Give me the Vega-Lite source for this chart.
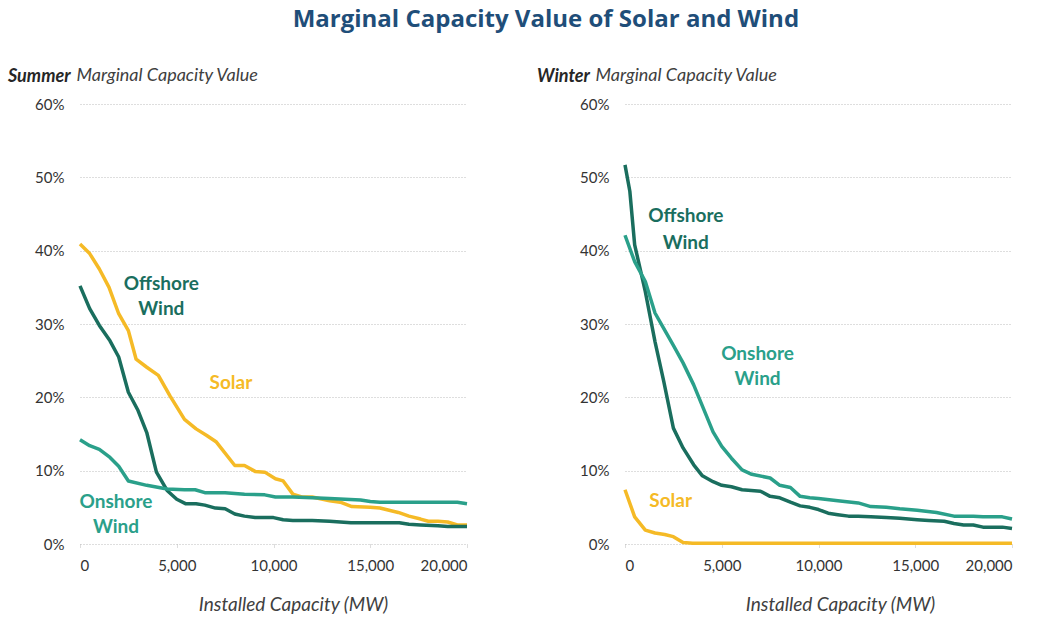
{
  "$schema": "https://vega.github.io/schema/vega-lite/v6.json",
  "background": "white",
  "padding": {"left": 8, "top": 8, "right": 5, "bottom": 5},
  "title": {"text": "Marginal Capacity Value of Solar and Wind", "font": "Open Sans", "fontSize": 24, "fontWeight": "bold", "color": "#1F4E79", "anchor": "middle", "offset": 34, "dx": 35},
  "config": {
    "view": {"stroke": null},
    "font": "Lato",
    "concat": {"spacing": 68},
    "axis": {"labelFont": "Lato", "titleFont": "Lato", "labelFontSize": 15, "labelColor": "#333333", "titleColor": "#404040", "titleFontSize": 18, "titleFontStyle": "italic", "titleFontWeight": "normal"},
    "title": {"font": "Lato"}
  },
  "datasets": {
    "lines": [
      {"s":"Summer","t":"Solar","mw":0,"v":0.409},{"s":"Summer","t":"Solar","mw":500,"v":0.396},{"s":"Summer","t":"Solar","mw":1000,"v":0.375},{"s":"Summer","t":"Solar","mw":1500,"v":0.350},{"s":"Summer","t":"Solar","mw":2000,"v":0.314},{"s":"Summer","t":"Solar","mw":2500,"v":0.291},{"s":"Summer","t":"Solar","mw":2900,"v":0.252},{"s":"Summer","t":"Solar","mw":3450,"v":0.241},{"s":"Summer","t":"Solar","mw":4050,"v":0.230},{"s":"Summer","t":"Solar","mw":4650,"v":0.202},{"s":"Summer","t":"Solar","mw":5400,"v":0.170},{"s":"Summer","t":"Solar","mw":6000,"v":0.157},{"s":"Summer","t":"Solar","mw":6550,"v":0.148},{"s":"Summer","t":"Solar","mw":7050,"v":0.139},{"s":"Summer","t":"Solar","mw":8000,"v":0.107},{"s":"Summer","t":"Solar","mw":8500,"v":0.107},{"s":"Summer","t":"Solar","mw":9050,"v":0.099},{"s":"Summer","t":"Solar","mw":9550,"v":0.098},{"s":"Summer","t":"Solar","mw":10100,"v":0.089},{"s":"Summer","t":"Solar","mw":10500,"v":0.086},{"s":"Summer","t":"Solar","mw":11000,"v":0.068},{"s":"Summer","t":"Solar","mw":11500,"v":0.064},{"s":"Summer","t":"Solar","mw":12000,"v":0.064},{"s":"Summer","t":"Solar","mw":12900,"v":0.059},{"s":"Summer","t":"Solar","mw":13450,"v":0.057},{"s":"Summer","t":"Solar","mw":14050,"v":0.051},{"s":"Summer","t":"Solar","mw":15000,"v":0.050},{"s":"Summer","t":"Solar","mw":15500,"v":0.049},{"s":"Summer","t":"Solar","mw":16450,"v":0.043},{"s":"Summer","t":"Solar","mw":17000,"v":0.038},{"s":"Summer","t":"Solar","mw":17600,"v":0.034},{"s":"Summer","t":"Solar","mw":18000,"v":0.031},{"s":"Summer","t":"Solar","mw":18500,"v":0.031},{"s":"Summer","t":"Solar","mw":19000,"v":0.030},{"s":"Summer","t":"Solar","mw":19500,"v":0.026},{"s":"Summer","t":"Solar","mw":20000,"v":0.026},
      {"s":"Summer","t":"Offshore Wind","mw":0,"v":0.352},{"s":"Summer","t":"Offshore Wind","mw":500,"v":0.321},{"s":"Summer","t":"Offshore Wind","mw":1000,"v":0.298},{"s":"Summer","t":"Offshore Wind","mw":1550,"v":0.277},{"s":"Summer","t":"Offshore Wind","mw":2000,"v":0.255},{"s":"Summer","t":"Offshore Wind","mw":2500,"v":0.207},{"s":"Summer","t":"Offshore Wind","mw":3000,"v":0.182},{"s":"Summer","t":"Offshore Wind","mw":3450,"v":0.152},{"s":"Summer","t":"Offshore Wind","mw":3950,"v":0.098},{"s":"Summer","t":"Offshore Wind","mw":4500,"v":0.073},{"s":"Summer","t":"Offshore Wind","mw":5000,"v":0.061},{"s":"Summer","t":"Offshore Wind","mw":5450,"v":0.055},{"s":"Summer","t":"Offshore Wind","mw":6000,"v":0.055},{"s":"Summer","t":"Offshore Wind","mw":6450,"v":0.053},{"s":"Summer","t":"Offshore Wind","mw":7000,"v":0.049},{"s":"Summer","t":"Offshore Wind","mw":7500,"v":0.048},{"s":"Summer","t":"Offshore Wind","mw":8000,"v":0.041},{"s":"Summer","t":"Offshore Wind","mw":8500,"v":0.038},{"s":"Summer","t":"Offshore Wind","mw":9050,"v":0.036},{"s":"Summer","t":"Offshore Wind","mw":10000,"v":0.036},{"s":"Summer","t":"Offshore Wind","mw":10500,"v":0.033},{"s":"Summer","t":"Offshore Wind","mw":11000,"v":0.032},{"s":"Summer","t":"Offshore Wind","mw":12000,"v":0.032},{"s":"Summer","t":"Offshore Wind","mw":12900,"v":0.031},{"s":"Summer","t":"Offshore Wind","mw":14000,"v":0.029},{"s":"Summer","t":"Offshore Wind","mw":15000,"v":0.029},{"s":"Summer","t":"Offshore Wind","mw":16500,"v":0.029},{"s":"Summer","t":"Offshore Wind","mw":17000,"v":0.027},{"s":"Summer","t":"Offshore Wind","mw":17600,"v":0.026},{"s":"Summer","t":"Offshore Wind","mw":18500,"v":0.025},{"s":"Summer","t":"Offshore Wind","mw":19000,"v":0.024},{"s":"Summer","t":"Offshore Wind","mw":20000,"v":0.024},
      {"s":"Summer","t":"Onshore Wind","mw":0,"v":0.142},{"s":"Summer","t":"Onshore Wind","mw":500,"v":0.134},{"s":"Summer","t":"Onshore Wind","mw":1000,"v":0.129},{"s":"Summer","t":"Onshore Wind","mw":1550,"v":0.118},{"s":"Summer","t":"Onshore Wind","mw":2000,"v":0.106},{"s":"Summer","t":"Onshore Wind","mw":2500,"v":0.086},{"s":"Summer","t":"Onshore Wind","mw":3450,"v":0.080},{"s":"Summer","t":"Onshore Wind","mw":4500,"v":0.075},{"s":"Summer","t":"Onshore Wind","mw":5400,"v":0.074},{"s":"Summer","t":"Onshore Wind","mw":5950,"v":0.074},{"s":"Summer","t":"Onshore Wind","mw":6450,"v":0.070},{"s":"Summer","t":"Onshore Wind","mw":7500,"v":0.070},{"s":"Summer","t":"Onshore Wind","mw":8500,"v":0.068},{"s":"Summer","t":"Onshore Wind","mw":9550,"v":0.067},{"s":"Summer","t":"Onshore Wind","mw":10100,"v":0.064},{"s":"Summer","t":"Onshore Wind","mw":11000,"v":0.064},{"s":"Summer","t":"Onshore Wind","mw":12000,"v":0.063},{"s":"Summer","t":"Onshore Wind","mw":12900,"v":0.062},{"s":"Summer","t":"Onshore Wind","mw":14500,"v":0.060},{"s":"Summer","t":"Onshore Wind","mw":15000,"v":0.058},{"s":"Summer","t":"Onshore Wind","mw":15500,"v":0.057},{"s":"Summer","t":"Onshore Wind","mw":19500,"v":0.057},{"s":"Summer","t":"Onshore Wind","mw":20000,"v":0.055},
      {"s":"Winter","t":"Offshore Wind","mw":0,"v":0.517},{"s":"Winter","t":"Offshore Wind","mw":250,"v":0.481},{"s":"Winter","t":"Offshore Wind","mw":500,"v":0.408},{"s":"Winter","t":"Offshore Wind","mw":1050,"v":0.344},{"s":"Winter","t":"Offshore Wind","mw":1550,"v":0.276},{"s":"Winter","t":"Offshore Wind","mw":2000,"v":0.222},{"s":"Winter","t":"Offshore Wind","mw":2500,"v":0.158},{"s":"Winter","t":"Offshore Wind","mw":3000,"v":0.131},{"s":"Winter","t":"Offshore Wind","mw":3550,"v":0.108},{"s":"Winter","t":"Offshore Wind","mw":4000,"v":0.093},{"s":"Winter","t":"Offshore Wind","mw":4550,"v":0.085},{"s":"Winter","t":"Offshore Wind","mw":5000,"v":0.080},{"s":"Winter","t":"Offshore Wind","mw":5500,"v":0.078},{"s":"Winter","t":"Offshore Wind","mw":6050,"v":0.074},{"s":"Winter","t":"Offshore Wind","mw":7000,"v":0.072},{"s":"Winter","t":"Offshore Wind","mw":7500,"v":0.065},{"s":"Winter","t":"Offshore Wind","mw":8000,"v":0.063},{"s":"Winter","t":"Offshore Wind","mw":8550,"v":0.057},{"s":"Winter","t":"Offshore Wind","mw":9050,"v":0.052},{"s":"Winter","t":"Offshore Wind","mw":9550,"v":0.050},{"s":"Winter","t":"Offshore Wind","mw":10000,"v":0.047},{"s":"Winter","t":"Offshore Wind","mw":10500,"v":0.042},{"s":"Winter","t":"Offshore Wind","mw":11000,"v":0.040},{"s":"Winter","t":"Offshore Wind","mw":11550,"v":0.038},{"s":"Winter","t":"Offshore Wind","mw":12050,"v":0.038},{"s":"Winter","t":"Offshore Wind","mw":12700,"v":0.037},{"s":"Winter","t":"Offshore Wind","mw":13500,"v":0.036},{"s":"Winter","t":"Offshore Wind","mw":14200,"v":0.035},{"s":"Winter","t":"Offshore Wind","mw":15100,"v":0.033},{"s":"Winter","t":"Offshore Wind","mw":15700,"v":0.032},{"s":"Winter","t":"Offshore Wind","mw":16500,"v":0.031},{"s":"Winter","t":"Offshore Wind","mw":17000,"v":0.028},{"s":"Winter","t":"Offshore Wind","mw":17500,"v":0.026},{"s":"Winter","t":"Offshore Wind","mw":18000,"v":0.026},{"s":"Winter","t":"Offshore Wind","mw":18500,"v":0.023},{"s":"Winter","t":"Offshore Wind","mw":19500,"v":0.023},{"s":"Winter","t":"Offshore Wind","mw":20000,"v":0.021},
      {"s":"Winter","t":"Onshore Wind","mw":0,"v":0.421},{"s":"Winter","t":"Onshore Wind","mw":500,"v":0.385},{"s":"Winter","t":"Onshore Wind","mw":1050,"v":0.358},{"s":"Winter","t":"Onshore Wind","mw":1550,"v":0.315},{"s":"Winter","t":"Onshore Wind","mw":2000,"v":0.294},{"s":"Winter","t":"Onshore Wind","mw":2500,"v":0.271},{"s":"Winter","t":"Onshore Wind","mw":3000,"v":0.247},{"s":"Winter","t":"Onshore Wind","mw":3550,"v":0.217},{"s":"Winter","t":"Onshore Wind","mw":4050,"v":0.185},{"s":"Winter","t":"Onshore Wind","mw":4550,"v":0.153},{"s":"Winter","t":"Onshore Wind","mw":5000,"v":0.133},{"s":"Winter","t":"Onshore Wind","mw":5500,"v":0.117},{"s":"Winter","t":"Onshore Wind","mw":6050,"v":0.101},{"s":"Winter","t":"Onshore Wind","mw":6550,"v":0.095},{"s":"Winter","t":"Onshore Wind","mw":7500,"v":0.090},{"s":"Winter","t":"Onshore Wind","mw":8000,"v":0.080},{"s":"Winter","t":"Onshore Wind","mw":8550,"v":0.077},{"s":"Winter","t":"Onshore Wind","mw":9050,"v":0.065},{"s":"Winter","t":"Onshore Wind","mw":9550,"v":0.063},{"s":"Winter","t":"Onshore Wind","mw":10000,"v":0.062},{"s":"Winter","t":"Onshore Wind","mw":11000,"v":0.059},{"s":"Winter","t":"Onshore Wind","mw":12050,"v":0.056},{"s":"Winter","t":"Onshore Wind","mw":12700,"v":0.051},{"s":"Winter","t":"Onshore Wind","mw":13500,"v":0.050},{"s":"Winter","t":"Onshore Wind","mw":14200,"v":0.048},{"s":"Winter","t":"Onshore Wind","mw":15100,"v":0.046},{"s":"Winter","t":"Onshore Wind","mw":16100,"v":0.043},{"s":"Winter","t":"Onshore Wind","mw":17000,"v":0.038},{"s":"Winter","t":"Onshore Wind","mw":18000,"v":0.038},{"s":"Winter","t":"Onshore Wind","mw":18500,"v":0.037},{"s":"Winter","t":"Onshore Wind","mw":19500,"v":0.037},{"s":"Winter","t":"Onshore Wind","mw":20000,"v":0.034},
      {"s":"Winter","t":"Solar","mw":0,"v":0.074},{"s":"Winter","t":"Solar","mw":500,"v":0.037},{"s":"Winter","t":"Solar","mw":1050,"v":0.019},{"s":"Winter","t":"Solar","mw":1550,"v":0.015},{"s":"Winter","t":"Solar","mw":2050,"v":0.013},{"s":"Winter","t":"Solar","mw":2500,"v":0.010},{"s":"Winter","t":"Solar","mw":3000,"v":0.002},{"s":"Winter","t":"Solar","mw":3500,"v":0.001},{"s":"Winter","t":"Solar","mw":20000,"v":0.001}
    ],
    "labels": [
      {"s":"Summer","t":"Offshore Wind","mw":4200,"v":0.355,"txt":"Offshore"},
      {"s":"Summer","t":"Offshore Wind","mw":4200,"v":0.320,"txt":"Wind"},
      {"s":"Summer","t":"Solar","mw":7800,"v":0.220,"txt":"Solar"},
      {"s":"Summer","t":"Onshore Wind","mw":1860,"v":0.057,"txt":"Onshore"},
      {"s":"Summer","t":"Onshore Wind","mw":1860,"v":0.023,"txt":"Wind"},
      {"s":"Winter","t":"Offshore Wind","mw":3140,"v":0.447,"txt":"Offshore"},
      {"s":"Winter","t":"Offshore Wind","mw":3140,"v":0.411,"txt":"Wind"},
      {"s":"Winter","t":"Onshore Wind","mw":6850,"v":0.259,"txt":"Onshore"},
      {"s":"Winter","t":"Onshore Wind","mw":6850,"v":0.225,"txt":"Wind"},
      {"s":"Winter","t":"Solar","mw":2360,"v":0.059,"txt":"Solar"}
    ]
  },
  "hconcat": [
    {
      "width": 387, "height": 440,
      "title": {"text": "Summer", "font": "Lato", "fontSize": 18, "fontStyle": "italic", "fontWeight": "bold", "color": "#262626", "anchor": "start", "frame": "group", "dx": -72, "offset": -20},
      "layer": [
        {
          "data": {"name": "lines"},
          "transform": [{"filter": "datum.s === 'Summer'"}],
          "mark": {"type": "line", "strokeWidth": 3.5, "strokeJoin": "round"},
          "encoding": {
            "x": {"field": "mw", "type": "quantitative", "scale": {"domain": [0, 20000], "nice": false},
                  "axis": {"values": [0, 5000, 10000, 15000, 20000], "format": ",.0f", "title": "Installed Capacity (MW)", "titleFontSize": 19, "titleX": 213, "grid": false, "domain": false, "ticks": true, "tickColor": "#bbbbbb", "tickDash": [1, 1], "tickSize": 4, "labelPadding": 10, "titlePadding": 22}},
            "y": {"field": "v", "type": "quantitative", "scale": {"domain": [0, 0.6], "nice": false},
                  "axis": {"values": [0, 0.1, 0.2, 0.3, 0.4, 0.5, 0.6], "format": ".0%", "title": "Marginal Capacity Value", "titleAngle": 0, "titleAlign": "left", "titleBaseline": "middle", "titleX": -4, "titleY": -29, "grid": true, "gridColor": "#bdbdbd", "gridDash": [1, 2], "domain": false, "ticks": false, "labelPadding": 16}},
            "color": {"field": "t", "type": "nominal", "legend": null, "scale": {"domain": ["Solar", "Offshore Wind", "Onshore Wind"], "range": ["#F5BA26", "#1A6E5E", "#2AA08A"]}}
          }
        },
        {
          "data": {"name": "labels"},
          "transform": [{"filter": "datum.s === 'Summer'"}],
          "mark": {"type": "text", "font": "Lato", "fontSize": 19, "fontWeight": "bold", "align": "center", "baseline": "middle"},
          "encoding": {
            "x": {"field": "mw", "type": "quantitative"},
            "y": {"field": "v", "type": "quantitative"},
            "text": {"field": "txt"},
            "color": {"field": "t", "type": "nominal", "legend": null}
          }
        }
      ]
    },
    {
      "width": 387, "height": 440,
      "title": {"text": "Winter", "font": "Lato", "fontSize": 18, "fontStyle": "italic", "fontWeight": "bold", "color": "#262626", "anchor": "start", "frame": "group", "dx": -88, "offset": -20},
      "layer": [
        {
          "data": {"name": "lines"},
          "transform": [{"filter": "datum.s === 'Winter'"}],
          "mark": {"type": "line", "strokeWidth": 3.5, "strokeJoin": "round"},
          "encoding": {
            "x": {"field": "mw", "type": "quantitative", "scale": {"domain": [0, 20000], "nice": false},
                  "axis": {"values": [0, 5000, 10000, 15000, 20000], "format": ",.0f", "title": "Installed Capacity (MW)", "titleFontSize": 19, "titleX": 215, "grid": false, "domain": false, "ticks": true, "tickColor": "#bbbbbb", "tickDash": [1, 1], "tickSize": 4, "labelPadding": 10, "titlePadding": 22}},
            "y": {"field": "v", "type": "quantitative", "scale": {"domain": [0, 0.6], "nice": false},
                  "axis": {"values": [0, 0.1, 0.2, 0.3, 0.4, 0.5, 0.6], "format": ".0%", "title": "Marginal Capacity Value", "titleAngle": 0, "titleAlign": "left", "titleBaseline": "middle", "titleX": -30, "titleY": -29, "grid": true, "gridColor": "#bdbdbd", "gridDash": [1, 2], "domain": false, "ticks": false, "labelPadding": 16}},
            "color": {"field": "t", "type": "nominal", "legend": null, "scale": {"domain": ["Solar", "Offshore Wind", "Onshore Wind"], "range": ["#F5BA26", "#1A6E5E", "#2AA08A"]}}
          }
        },
        {
          "data": {"name": "labels"},
          "transform": [{"filter": "datum.s === 'Winter'"}],
          "mark": {"type": "text", "font": "Lato", "fontSize": 19, "fontWeight": "bold", "align": "center", "baseline": "middle"},
          "encoding": {
            "x": {"field": "mw", "type": "quantitative"},
            "y": {"field": "v", "type": "quantitative"},
            "text": {"field": "txt"},
            "color": {"field": "t", "type": "nominal", "legend": null}
          }
        }
      ]
    }
  ]
}
